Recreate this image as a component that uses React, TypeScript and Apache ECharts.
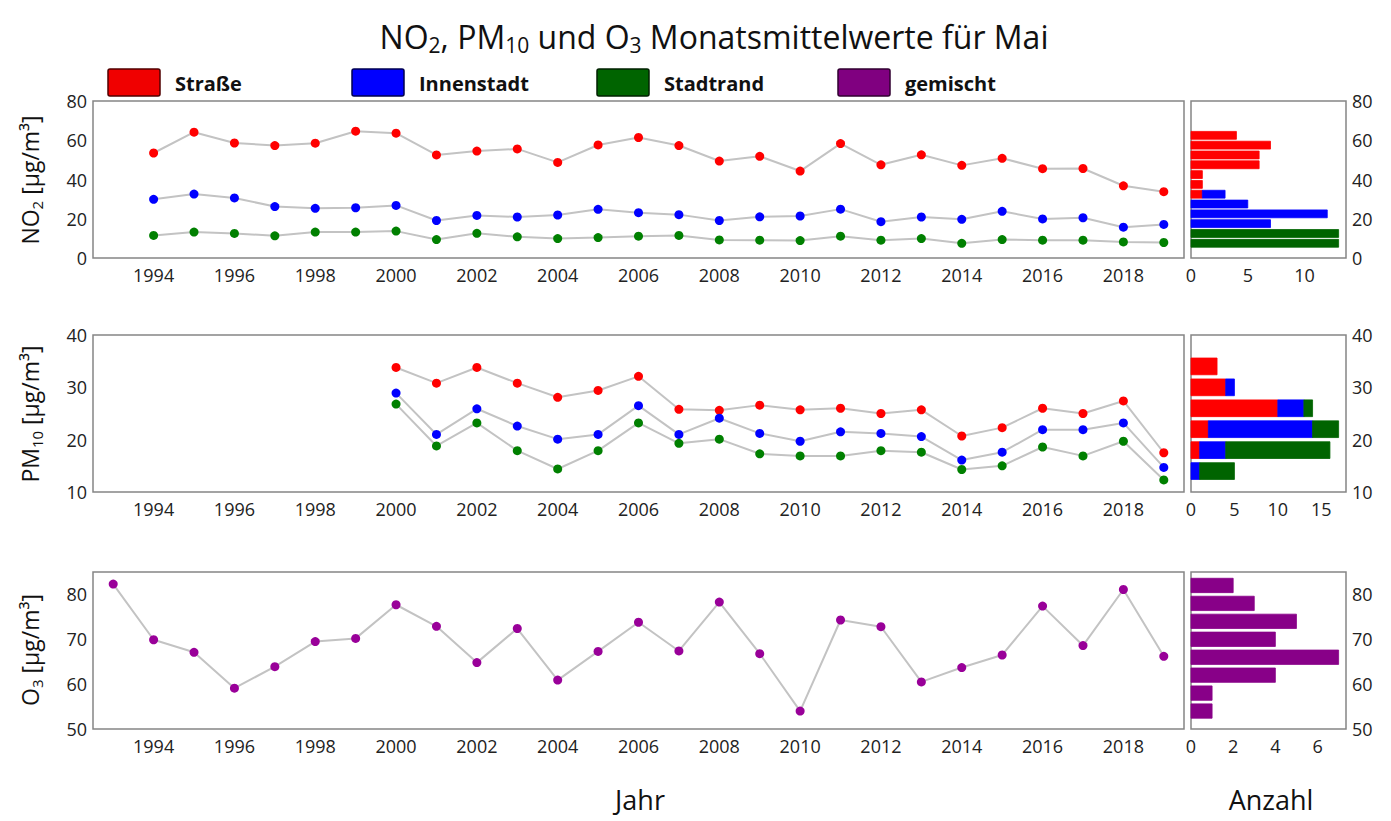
import React, { useEffect, useRef } from "react";
import * as echarts from "echarts";

// ---------- data ----------
const YEARS_NO2 = [1994, 1995, 1996, 1997, 1998, 1999, 2000, 2001, 2002, 2003, 2004, 2005, 2006, 2007, 2008, 2009, 2010, 2011, 2012, 2013, 2014, 2015, 2016, 2017, 2018, 2019];
const NO2_STRASSE = [53.5, 64.1, 58.6, 57.3, 58.5, 64.6, 63.6, 52.5, 54.5, 55.6, 48.7, 57.6, 61.4, 57.3, 49.4, 51.8, 44.3, 58.3, 47.5, 52.6, 47.2, 50.8, 45.5, 45.6, 36.8, 33.8];
const NO2_INNENSTADT = [29.9, 32.6, 30.6, 26.2, 25.3, 25.6, 26.8, 19.1, 21.7, 20.9, 21.9, 24.8, 23.1, 22.1, 19.1, 21.0, 21.4, 24.9, 18.5, 20.9, 19.7, 23.8, 19.9, 20.5, 15.7, 17.1];
const NO2_STADTRAND = [11.5, 13.2, 12.5, 11.3, 13.2, 13.2, 13.7, 9.4, 12.6, 10.8, 9.9, 10.4, 11.1, 11.5, 9.2, 9.1, 8.9, 11.1, 9.1, 9.9, 7.5, 9.4, 9.1, 9.1, 8.2, 7.9];

const YEARS_PM10 = [2000, 2001, 2002, 2003, 2004, 2005, 2006, 2007, 2008, 2009, 2010, 2011, 2012, 2013, 2014, 2015, 2016, 2017, 2018, 2019];
const PM10_STRASSE = [33.8, 30.8, 33.8, 30.8, 28.1, 29.4, 32.1, 25.8, 25.6, 26.6, 25.7, 26.0, 25.0, 25.7, 20.7, 22.3, 26.0, 25.0, 27.4, 17.5];
const PM10_INNENSTADT = [28.9, 21.0, 25.9, 22.6, 20.1, 21.0, 26.5, 21.0, 24.1, 21.2, 19.7, 21.5, 21.2, 20.6, 16.1, 17.6, 21.9, 21.9, 23.2, 14.7];
const PM10_STADTRAND = [26.8, 18.8, 23.2, 17.9, 14.4, 17.9, 23.2, 19.3, 20.1, 17.3, 16.9, 16.9, 17.9, 17.6, 14.3, 15.0, 18.6, 16.9, 19.7, 12.3];

const YEARS_O3 = [1993, 1994, 1995, 1996, 1997, 1998, 1999, 2000, 2001, 2002, 2003, 2004, 2005, 2006, 2007, 2008, 2009, 2010, 2011, 2012, 2013, 2014, 2015, 2016, 2017, 2018, 2019];
const O3_GEMISCHT = [82.3, 69.9, 67.1, 59.1, 63.9, 69.5, 70.2, 77.7, 72.9, 64.8, 72.4, 60.9, 67.3, 73.8, 67.4, 78.3, 66.8, 54.0, 74.3, 72.8, 60.5, 63.7, 66.5, 77.4, 68.6, 81.1, 66.2];

// histograms (counts per bin)
const NO2_BIN_EDGES = [5, 10, 15, 20, 25, 30, 35, 40, 45, 50, 55, 60, 65];
const NO2_HIST_STRASSE = [0, 0, 0, 0, 0, 1, 1, 1, 6, 6, 7, 4];
const NO2_HIST_INNENSTADT = [0, 0, 7, 12, 5, 2, 0, 0, 0, 0, 0, 0];
const NO2_HIST_STADTRAND = [13, 13, 0, 0, 0, 0, 0, 0, 0, 0, 0, 0];

const PM10_BIN_EDGES = [12, 16, 20, 24, 28, 32, 36];
const PM10_HIST_STRASSE = [0, 1, 2, 10, 4, 3];
const PM10_HIST_INNENSTADT = [1, 3, 12, 3, 1, 0];
const PM10_HIST_STADTRAND = [4, 12, 3, 1, 0, 0];

const O3_BIN_EDGES = [52, 56, 60, 64, 68, 72, 76, 80, 84];
const O3_HIST_GEMISCHT = [1, 1, 4, 7, 4, 5, 3, 2];

const CATEGORIES = ["Straße", "Innenstadt", "Stadtrand", "gemischt"];

// ---------- styles ----------
const FONT = "Open Sans";
const MARKER_COLORS = ["#ff0000", "#0000ff", "#008000", "#990099"];
const BAR_COLORS = ["#ff0000", "#0000ff", "#006400", "#880088"];
const LEGEND_FILL = ["#f00000", "#0000ff", "#006400", "#800080"];
const LEGEND_STROKE = ["#500000", "#000050", "#002000", "#300030"];
const LINE_GRAY = "#c3c3c3";
const LABEL_COLOR = "#222222";

const MAIN_LEFT = 93;
const MAIN_WIDTH = 1091;
const HIST_LEFT = 1191;
const HIST_WIDTH = 155;
const PANEL_TOPS = [101, 335, 572];
const PANEL_H = 157;

function lineSeries(name: string, years: number[], vals: number[], color: string, idx: number) {
  return {
    type: "line",
    name,
    xAxisIndex: idx,
    yAxisIndex: idx,
    data: years.map((y, i) => [y, vals[i]]),
    symbol: "circle",
    symbolSize: 9,
    showSymbol: true,
    lineStyle: { color: LINE_GRAY, width: 2 },
    itemStyle: { color, borderWidth: 0 },
    emphasis: { disabled: true },
    z: 3,
  };
}

function histSeries(idx: number, edges: number[], countsList: number[][], names: string[], colors: string[]) {
  const nb = edges.length - 1;
  const starts = new Array(nb).fill(0);
  return countsList.map((counts, s) => {
    const data: number[][] = [];
    for (let i = 0; i < nb; i++) {
      if (counts[i] > 0) {
        data.push([starts[i], starts[i] + counts[i], edges[i], edges[i + 1]]);
        starts[i] += counts[i];
      }
    }
    const color = colors[s];
    return {
      type: "custom",
      name: names[s],
      xAxisIndex: idx,
      yAxisIndex: idx,
      encode: { x: [0, 1], y: [2, 3] },
      data,
      renderItem: (params: any, api: any) => {
        const x0 = api.value(0);
        const x1 = api.value(1);
        const y0 = api.value(2);
        const y1 = api.value(3);
        const pad = (y1 - y0) * 0.1;
        const p0 = api.coord([x0, y1 - pad]);
        const p1 = api.coord([x1, y0 + pad]);
        return {
          type: "rect",
          shape: { x: p0[0], y: p0[1], width: p1[0] - p0[0], height: p1[1] - p0[1] },
          style: { fill: color, stroke: color, lineWidth: 0.8 },
        };
      },
    };
  });
}

const axisBase = {
  axisLine: { show: false },
  axisTick: { show: false },
  splitLine: { show: false },
};
const labelBase = { color: LABEL_COLOR, fontSize: 18, fontFamily: FONT };

function subText(parts: [string, boolean][]) {
  return parts.map(([t, sub]) => `{${sub ? "s" : "a"}|${t}}`).join("");
}

export default function App() {
  const ref = useRef<HTMLDivElement>(null);
  useEffect(() => {
    if (!ref.current) return;
    const chart = echarts.init(ref.current, undefined, { renderer: "svg" });

    const grids: any[] = [];
    PANEL_TOPS.forEach((top) => {
      grids.push({ left: MAIN_LEFT, top, width: MAIN_WIDTH, height: PANEL_H, show: true, borderColor: "#858585", borderWidth: 1.5, backgroundColor: "transparent" });
      grids.push({ left: HIST_LEFT, top, width: HIST_WIDTH, height: PANEL_H, show: true, borderColor: "#858585", borderWidth: 1.5, backgroundColor: "transparent" });
    });

    const yearAxis = (gi: number) => ({
      type: "value",
      gridIndex: gi,
      min: 1992.5,
      max: 2019.5,
      interval: 0.5,
      ...axisBase,
      axisLabel: {
        ...labelBase,
        margin: 8,
        formatter: (v: number) => (Math.abs(v - Math.round(v)) < 1e-6 && Math.round(v) % 2 === 0 ? String(Math.round(v)) : ""),
      },
    });
    const countAxis = (gi: number, max: number, interval: number) => ({
      type: "value",
      gridIndex: gi,
      min: 0,
      max,
      interval,
      ...axisBase,
      axisLabel: {
        ...labelBase,
        margin: 8,
        formatter: (v: number) => (Math.abs(v / interval - Math.round(v / interval)) < 1e-6 ? String(v) : ""),
      },
    });
    const valAxis = (gi: number, min: number, max: number, interval: number, pos: string) => ({
      type: "value",
      gridIndex: gi,
      min,
      max,
      interval,
      position: pos,
      ...axisBase,
      axisLabel: {
        ...labelBase,
        margin: 6,
        formatter: (v: number) => (Math.abs((v - min) / interval - Math.round((v - min) / interval)) < 1e-6 ? String(v) : ""),
      },
    });

    const xAxis = [
      yearAxis(0),
      countAxis(1, 13.65, 5),
      yearAxis(2),
      countAxis(3, 17.85, 5),
      yearAxis(4),
      countAxis(5, 7.35, 2),
    ];
    const yAxis = [
      valAxis(0, 0, 80, 20, "left"),
      valAxis(1, 0, 80, 20, "right"),
      valAxis(2, 10, 40, 10, "left"),
      valAxis(3, 10, 40, 10, "right"),
      valAxis(4, 50, 85, 10, "left"),
      valAxis(5, 50, 85, 10, "right"),
    ];

    const series: any[] = [
      lineSeries(CATEGORIES[0], YEARS_NO2, NO2_STRASSE, MARKER_COLORS[0], 0),
      lineSeries(CATEGORIES[1], YEARS_NO2, NO2_INNENSTADT, MARKER_COLORS[1], 0),
      lineSeries(CATEGORIES[2], YEARS_NO2, NO2_STADTRAND, MARKER_COLORS[2], 0),
      ...histSeries(1, NO2_BIN_EDGES, [NO2_HIST_STRASSE, NO2_HIST_INNENSTADT, NO2_HIST_STADTRAND], CATEGORIES.slice(0, 3), BAR_COLORS.slice(0, 3)),
      lineSeries(CATEGORIES[0], YEARS_PM10, PM10_STRASSE, MARKER_COLORS[0], 2),
      lineSeries(CATEGORIES[1], YEARS_PM10, PM10_INNENSTADT, MARKER_COLORS[1], 2),
      lineSeries(CATEGORIES[2], YEARS_PM10, PM10_STADTRAND, MARKER_COLORS[2], 2),
      ...histSeries(3, PM10_BIN_EDGES, [PM10_HIST_STRASSE, PM10_HIST_INNENSTADT, PM10_HIST_STADTRAND], CATEGORIES.slice(0, 3), BAR_COLORS.slice(0, 3)),
      lineSeries(CATEGORIES[3], YEARS_O3, O3_GEMISCHT, MARKER_COLORS[3], 4),
      ...histSeries(5, O3_BIN_EDGES, [O3_HIST_GEMISCHT], [CATEGORIES[3]], [BAR_COLORS[3]]),
    ];

    const richMain = (size: number, lh: number) => ({
      a: { fontSize: size, fontFamily: FONT, fill: "#111", lineHeight: lh },
      s: { fontSize: Math.round(size * 0.66), fontFamily: FONT, fill: "#111", lineHeight: Math.round(size * 0.5), verticalAlign: "bottom" },
    });

    const legendX = [108, 352, 597, 838];
    const graphic: any[] = [
      {
        type: "text",
        x: 714,
        y: 36,
        style: {
          text: subText([["NO", false], ["2", true], [", PM", false], ["10", true], [" und O", false], ["3", true], [" Monatsmittelwerte für Mai", false]]),
          rich: richMain(32, 38),
          align: "center",
          verticalAlign: "middle",
        },
      },
      ...CATEGORIES.flatMap((c, i) => [
        {
          type: "rect",
          shape: { x: legendX[i], y: 69, width: 52, height: 27, r: 2 },
          style: { fill: LEGEND_FILL[i], stroke: LEGEND_STROKE[i], lineWidth: 1.5 },
        },
        {
          type: "text",
          x: legendX[i] + 67,
          y: 83,
          style: { text: c, fontSize: 20, fontWeight: "bold", fontFamily: FONT, fill: "#111", align: "left", verticalAlign: "middle" },
        },
      ]),
      {
        type: "text",
        x: 30,
        y: 180,
        rotation: Math.PI / 2,
        style: { text: subText([["NO", false], ["2", true], [" [µg/m³]", false]]), rich: richMain(23, 28), align: "center", verticalAlign: "middle" },
      },
      {
        type: "text",
        x: 30,
        y: 414,
        rotation: Math.PI / 2,
        style: { text: subText([["PM", false], ["10", true], [" [µg/m³]", false]]), rich: richMain(23, 28), align: "center", verticalAlign: "middle" },
      },
      {
        type: "text",
        x: 30,
        y: 650,
        rotation: Math.PI / 2,
        style: { text: subText([["O", false], ["3", true], [" [µg/m³]", false]]), rich: richMain(23, 28), align: "center", verticalAlign: "middle" },
      },
      {
        type: "text",
        x: 640,
        y: 799,
        style: { text: "Jahr", fontSize: 27, fontFamily: FONT, fill: "#111", align: "center", verticalAlign: "middle" },
      },
      {
        type: "text",
        x: 1271,
        y: 799,
        style: { text: "Anzahl", fontSize: 27, fontFamily: FONT, fill: "#111", align: "center", verticalAlign: "middle" },
      },
    ];

    chart.setOption({
      animation: false,
      backgroundColor: "#ffffff",
      textStyle: { fontFamily: FONT },
      grid: grids,
      xAxis,
      yAxis,
      series,
      graphic,
    });
    return () => chart.dispose();
  }, []);
  return <div ref={ref} style={{ position: "fixed", left: 0, top: 0, width: 1391, height: 821, background: "#fff" }} />;
}
